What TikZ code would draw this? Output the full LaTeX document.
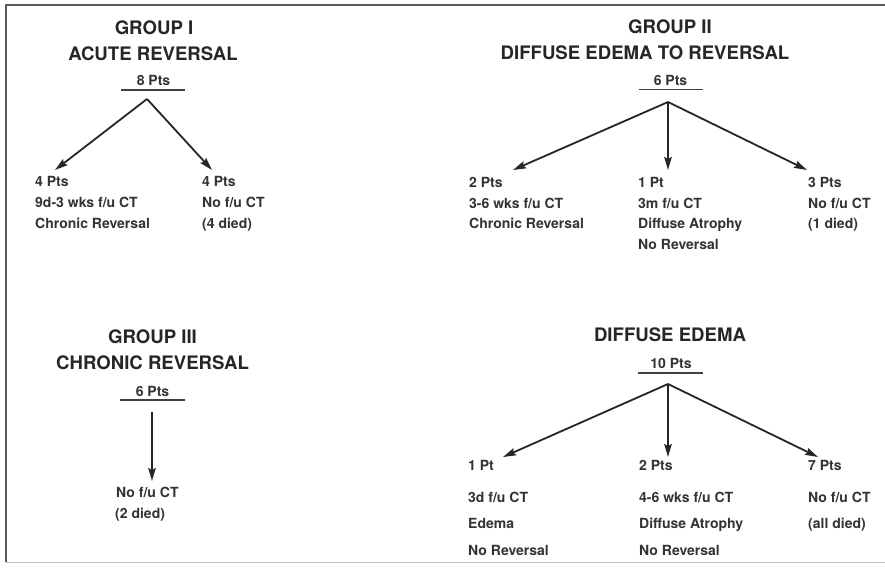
\documentclass[tikz,border=0pt]{standalone}
\usepackage{fontspec}
\setmainfont{TeX Gyre Heros}
\usetikzlibrary{arrows.meta}
\tikzset{
  ttl/.style={font=\fontsize{18.6}{20}\selectfont\bfseries, inner sep=0, anchor=base, text=black!85},
  cnt/.style={font=\fontsize{14}{16}\selectfont\bfseries, inner sep=0, anchor=base, text=black!80},
  lbl/.style={font=\fontsize{14}{20.7}\selectfont\bfseries, inner sep=0, anchor=north west, align=left, text=black!80},
  lblwide/.style={lbl, font=\fontsize{14}{26.5}\selectfont\bfseries},
  uline/.style={line width=1.2pt, black!75},
  arr/.style={line width=1.8pt, black!85, -{Stealth[length=13pt,width=7.5pt,inset=2pt]}},
  frame/.style={line width=1.6pt, black!65}
}
\begin{document}
\begin{tikzpicture}[x=1pt,y=-1pt]
\useasboundingbox (0,0) rectangle (885,567);
\fill[white] (0,0) rectangle (885,567);
% frame
\draw[frame] (885,5) -- (6,5) -- (6,562);
\draw[line width=1pt, black!25] (6,562) -- (885,562);

% ---------- GROUP I ----------
\node[ttl] (g1a) at (154,34.5) {GROUP I};
\node[ttl] (g1b) at (153,60.5) {ACUTE REVERSAL};
\node[cnt] (g1n) at (153.5,86) {8 Pts};
\draw[uline] (121,90) -- (185,90);
\coordinate (g1apex) at (147,99);
\coordinate (g1lt) at (55,170);
\coordinate (g1rt) at (212,170);
\draw[arr] (g1apex) -- (g1lt);
\draw[arr] (g1apex) -- (g1rt);
\node[lbl] (g1l) at (35,176.5) {4 Pts\\9d-3 wks f/u CT\\Chronic Reversal};
\node[lbl] (g1r) at (202,176.5) {4 Pts\\No f/u CT\\(4 died)};

% ---------- GROUP II ----------
\node[ttl] (g2a) at (670,33.5) {GROUP II};
\node[ttl] (g2b) at (645,59.5) {DIFFUSE EDEMA TO REVERSAL};
\node[cnt] (g2n) at (670.5,86) {6 Pts};
\draw[uline] (639,89.5) -- (703,89.5);
\coordinate (g2apex) at (668,102);
\coordinate (g2lt) at (513,170);
\coordinate (g2mt) at (668,170);
\coordinate (g2rt) at (807,170);
\draw[arr] (g2apex) -- (g2lt);
\draw[arr] (g2apex) -- (g2mt);
\draw[arr] (g2apex) -- (g2rt);
\node[lbl] (g2l) at (469,177) {2 Pts\\3-6 wks f/u CT\\Chronic Reversal};
\node[lbl] (g2m) at (638,177) {1 Pt\\3m f/u CT\\Diffuse Atrophy\\No Reversal};
\node[lbl] (g2r) at (808,177) {3 Pts\\No f/u CT\\(1 died)};

% ---------- GROUP III ----------
\node[ttl] (g3a) at (152.5,343.5) {GROUP III};
\node[ttl] (g3b) at (152.5,369.5) {CHRONIC REVERSAL};
\node[cnt] (g3n) at (152.5,396) {6 Pts};
\draw[uline] (120,400) -- (185,400);
\coordinate (g3top) at (152,412);
\coordinate (g3tip) at (152,481);
\draw[arr] (g3top) -- (g3tip);
\node[lbl, font=\fontsize{14}{21.5}\selectfont\bfseries] (g3t) at (116,486.5) {No f/u CT\\[-0.2pt]\hspace*{-1pt}(2 died)};

% ---------- DIFFUSE EDEMA ----------
\node[ttl] (g4a) at (670,341.5) {DIFFUSE EDEMA};
\node[cnt] (g4n) at (671,368) {10 Pts};
\draw[uline] (638,373) -- (703,373);
\coordinate (g4apex) at (668,384);
\coordinate (g4lt) at (503,457);
\coordinate (g4mt) at (668,457);
\coordinate (g4rt) at (818,457);
\draw[arr] (g4apex) -- (g4lt);
\draw[arr] (g4apex) -- (g4mt);
\draw[arr] (g4apex) -- (g4rt);
\node[lblwide] (g4l) at (468,460) {1 Pt\\[5.5pt]3d f/u CT\\Edema\\No Reversal};
\node[lblwide] (g4m) at (639,460) {2 Pts\\[5.5pt]4-6 wks f/u CT\\Diffuse Atrophy\\No Reversal};
\node[lblwide] (g4r) at (808,460) {7 Pts\\[5.5pt]No f/u CT\\(all died)};
\end{tikzpicture}
\end{document}
